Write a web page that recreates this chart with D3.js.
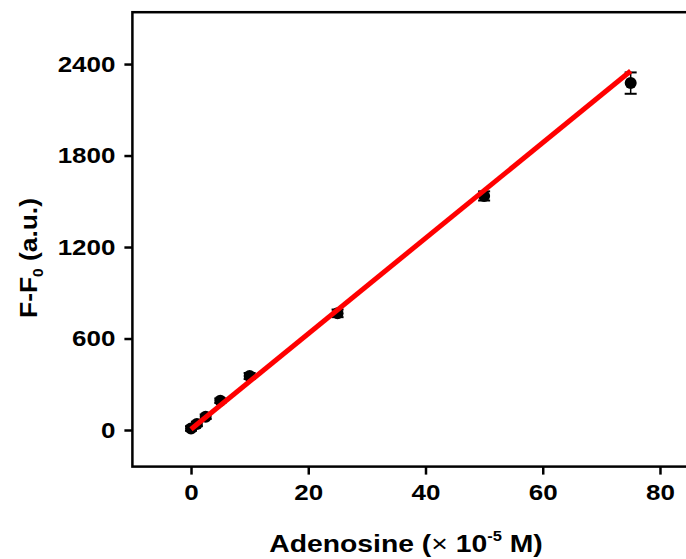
<!DOCTYPE html>
<html>
<head>
<meta charset="utf-8">
<script src="https://cdn.jsdelivr.net/npm/d3@7"></script>
<style>
  body { margin: 0; background: #fff; }
  svg text { font-family: Arial, "Liberation Sans", sans-serif; font-weight: bold; fill: #000; }
</style>
</head>
<body>
<div id="chart"></div>
<script>
// adenosine concentration (x 10^-5 M) and F-F0 response
const conc = [0, 1, 2.5, 5, 10, 25, 50, 75];
const response = [10, 40, 87, 192, 354, 765, 1535, 2275];
const respErr = [15, 15, 15, 15, 20, 25, 30, 70];
// linear fit end points
const fitX = [0, 75];
const fitY = [5, 2354];
const xTicks = [0, 20, 40, 60, 80];
const yTicks = [0, 600, 1200, 1800, 2400];

const opts = {
  width: 686, height: 559,
  x: {domain: [-10, 90], range: [132.4, 718.6]},
  y: {domain: [-240, 2740], range: [466.6, 12.2]},
  axisWidth: 2.5, tickLen: 8,
  font: 22, titleFont: 24, stretch: 1.18, yStretch: 1.1,
  marker: {r: 6, color: '#000'},
  fit: {color: '#ff0000', width: 5}
};

const svg = d3.select('#chart').append('svg')
  .attr('width', opts.width)
  .attr('height', opts.height);

const x = d3.scaleLinear().domain(opts.x.domain).range(opts.x.range);
const y = d3.scaleLinear().domain(opts.y.domain).range(opts.y.range);

// frame (right side runs past the picture edge)
const [x0, x1] = opts.x.range, [y0, y1] = opts.y.range;
svg.append('rect')
  .attr('x', x0).attr('y', y1)
  .attr('width', x1 - x0).attr('height', y0 - y1)
  .attr('fill', 'none').attr('stroke', '#000')
  .attr('stroke-width', opts.axisWidth);

// axes
const xAxis = svg.append('g')
  .attr('transform', `translate(0 ${y0})`)
  .call(d3.axisBottom(x).tickValues(xTicks).tickFormat(d3.format('d'))
    .tickSize(opts.tickLen).tickPadding(10));
const yAxis = svg.append('g')
  .attr('transform', `translate(${x0} 0)`)
  .call(d3.axisLeft(y).tickValues(yTicks).tickFormat(d3.format('d'))
    .tickSize(opts.tickLen).tickPadding(9));

[xAxis, yAxis].forEach(g => {
  g.select('.domain').remove();
  g.selectAll('.tick line').attr('stroke', '#000').attr('stroke-width', opts.axisWidth);
  g.selectAll('.tick text')
    .attr('font-size', opts.font)
    .attr('font-family', null)
    .attr('fill', '#000');
});
// the original glyphs are a little wider than Arial
yAxis.selectAll('.tick text')
  .attr('x', -(opts.tickLen + 9) / opts.stretch)
  .attr('transform', `scale(${opts.stretch} 1)`);
xAxis.selectAll('.tick text')
  .attr('transform', `scale(${opts.stretch} 1)`);

// error bars
const eb = svg.append('g').attr('id', 'error-bars');
eb.selectAll('line.stem')
  .data(conc)
  .join('line').attr('class', 'stem')
    .attr('x1', d => x(d)).attr('x2', d => x(d))
    .attr('y1', (d, i) => y(response[i] - respErr[i]))
    .attr('y2', (d, i) => y(response[i] + respErr[i]))
    .attr('stroke', '#000').attr('stroke-width', 1.5);
['u', 'd'].forEach(s => {
  const sign = s === 'u' ? 1 : -1;
  eb.selectAll(`line.cap${s}`)
    .data(conc)
    .join('line').attr('class', `cap${s}`)
      .attr('x1', d => x(d) - 6).attr('x2', d => x(d) + 6)
      .attr('y1', (d, i) => y(response[i] + sign * respErr[i]))
      .attr('y2', (d, i) => y(response[i] + sign * respErr[i]))
      .attr('stroke', '#000').attr('stroke-width', 2);
});

// data points
svg.append('g').attr('id', 'data-points')
  .selectAll('circle')
  .data(conc)
  .join('circle')
    .attr('cx', d => x(d))
    .attr('cy', (d, i) => y(response[i]))
    .attr('r', opts.marker.r)
    .attr('fill', opts.marker.color);

// linear fit
svg.append('path')
  .datum(fitX.map((d, i) => [d, fitY[i]]))
  .attr('d', d3.line().x(d => x(d[0])).y(d => y(d[1])))
  .attr('fill', 'none')
  .attr('stroke', opts.fit.color)
  .attr('stroke-width', opts.fit.width);

// axis titles
const xt = svg.append('text')
  .attr('transform', `translate(406 552) scale(${opts.stretch} 1)`)
  .attr('text-anchor', 'middle')
  .attr('font-size', opts.titleFont);
xt.append('tspan').text('Adenosine (');
xt.append('tspan').attr('font-weight', 'normal').text('\u00d7');
xt.append('tspan').text(' 10');
xt.append('tspan').attr('font-size', 14).attr('dy', -11).text('-5');
xt.append('tspan').attr('dy', 11).text(' M)');

const yt = svg.append('text')
  .attr('transform', `translate(37 258) rotate(-90) scale(${opts.yStretch} 1)`)
  .attr('text-anchor', 'middle')
  .attr('font-size', opts.titleFont);
yt.append('tspan').text('F-F');
yt.append('tspan').attr('font-size', 14).attr('dy', 6).text('0');
yt.append('tspan').attr('dy', -6).text(' (a.u.)');
</script>
</body>
</html>
